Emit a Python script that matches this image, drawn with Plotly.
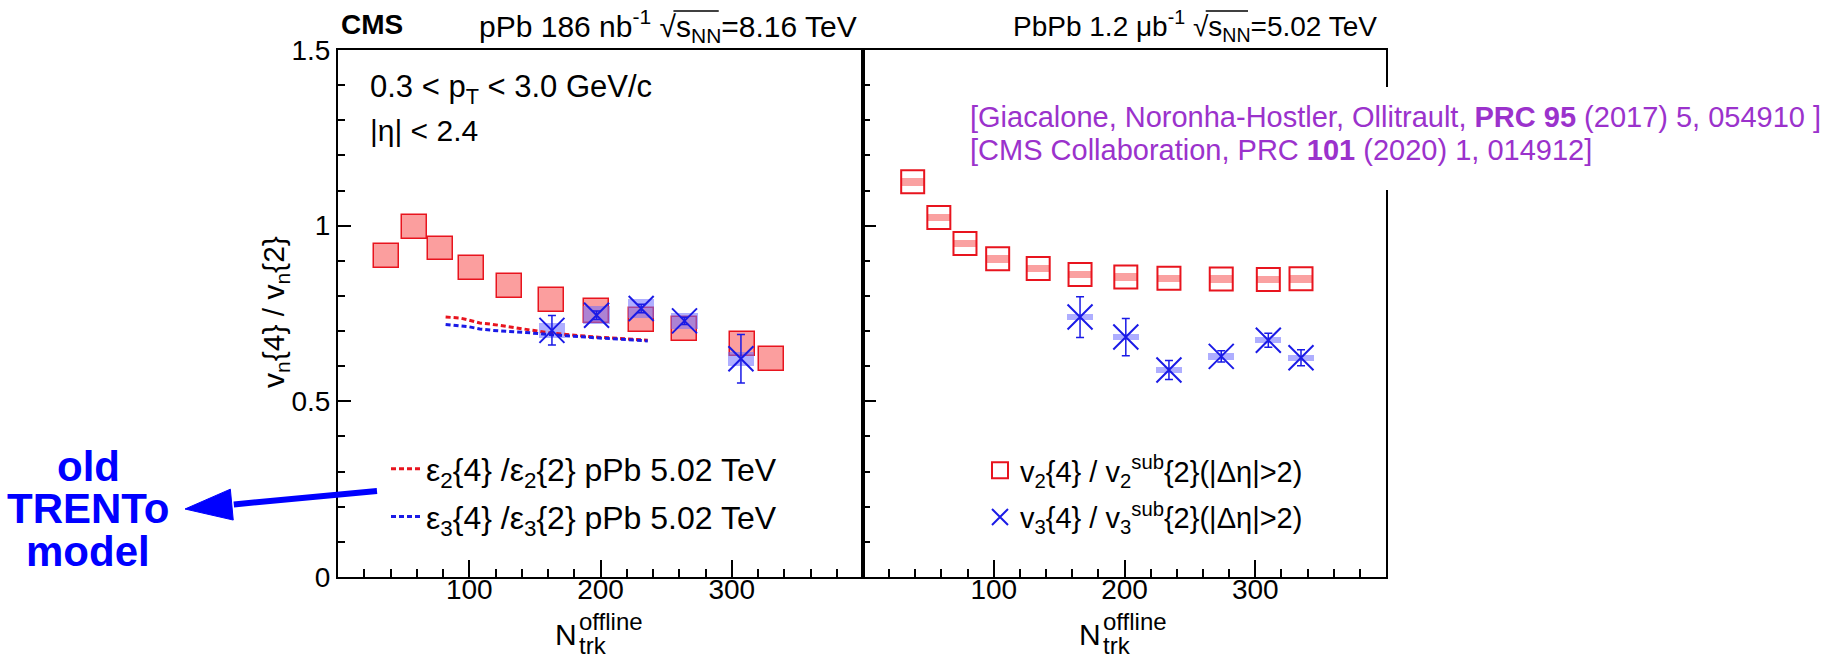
import plotly.graph_objects as go

W, H = 1837, 661
FONT = "Liberation Sans, Arial, Helvetica, sans-serif"

# ---------------- data ----------------
# pPb 8.16 TeV
ppb_v2_n = [37, 58, 78, 102, 131, 163, 197, 231, 264, 308, 330]
ppb_v2_ratio = [0.913, 0.995, 0.935, 0.879, 0.828, 0.788, 0.757, 0.732, 0.707, 0.663, 0.620]
ppb_v2_sys = [0.034, 0.034, 0.034, 0.034, 0.034, 0.034, 0.034, 0.034, 0.034, 0.034, 0.034]
ppb_v3_n = [163, 197, 231, 264, 307]
ppb_v3_ratio = [0.702, 0.745, 0.764, 0.729, 0.621]
ppb_v3_stat = [0.042, 0.012, 0.012, 0.010, 0.069]
ppb_v3_sys = [0.021, 0.026, 0.028, 0.022, 0.019]

# old TRENTo model, pPb 5.02 TeV
model_n = [82, 93, 100, 108, 118, 143, 161, 196, 217, 236]
model_e2 = [0.740, 0.737, 0.731, 0.723, 0.719, 0.704, 0.695, 0.683, 0.679, 0.674]
model_e3 = [0.719, 0.716, 0.712, 0.706, 0.702, 0.696, 0.690, 0.681, 0.677, 0.672]

# PbPb 5.02 TeV
pbpb_v2_n = [38, 58, 78, 103, 134, 166, 201, 234, 274, 310, 335]
pbpb_v2_ratio = [1.125, 1.023, 0.949, 0.906, 0.878, 0.861, 0.854, 0.850, 0.848, 0.847, 0.849]
pbpb_v2_sys = [0.011, 0.011, 0.011, 0.011, 0.011, 0.011, 0.011, 0.011, 0.011, 0.011, 0.011]
pbpb_v3_n = [166, 201, 234, 274, 310, 335]
pbpb_v3_ratio = [0.740, 0.683, 0.589, 0.628, 0.674, 0.624]
pbpb_v3_stat = [0.058, 0.053, 0.027, 0.016, 0.020, 0.023]
pbpb_v3_sys = [0.009, 0.009, 0.009, 0.009, 0.009, 0.009]

x_ticks = [100, 200, 300]
x_minor = [20, 40, 60, 80, 120, 140, 160, 180, 220, 240, 260, 280, 320, 340, 360, 380]
y_ticks = [0, 0.5, 1, 1.5]
y_ticktext = ["0", "0.5", "1", "1.5"]
y_minor = [0.1, 0.2, 0.3, 0.4, 0.6, 0.7, 0.8, 0.9, 1.1, 1.2, 1.3, 1.4]

RED = "#e8141e"
BLUE = "#1a1ae6"


def P(x):
    return x / W


def Q(y):
    return 1 - y / H


fig = go.Figure()

# ---------------- left panel: pPb ----------------
fig.add_trace(go.Bar(
    x=ppb_v2_n, y=[2 * s for s in ppb_v2_sys],
    base=[v - s for v, s in zip(ppb_v2_ratio, ppb_v2_sys)],
    width=19, marker=dict(color="rgba(250,120,120,0.72)", line=dict(color=RED, width=1.5)),
    showlegend=False, xaxis="x", yaxis="y"))
fig.add_trace(go.Bar(
    x=ppb_v3_n, y=[2 * s for s in ppb_v3_sys],
    base=[v - s for v, s in zip(ppb_v3_ratio, ppb_v3_sys)],
    width=20, marker=dict(color="rgba(110,110,255,0.55)", line=dict(width=0)),
    showlegend=False, xaxis="x", yaxis="y"))
fig.add_trace(go.Scatter(
    x=model_n, y=model_e2, mode="lines",
    line=dict(color=RED, width=3, dash="5px,3px"),
    name="ε<sub>2</sub>{4} /ε<sub>2</sub>{2} pPb 5.02 TeV",
    legend="legend", legendgroup="a", xaxis="x", yaxis="y"))
fig.add_trace(go.Scatter(
    x=model_n, y=model_e3, mode="lines",
    line=dict(color=BLUE, width=3, dash="5px,3px"),
    name="ε<sub>3</sub>{4} /ε<sub>3</sub>{2} pPb 5.02 TeV",
    legend="legend", legendgroup="b", xaxis="x", yaxis="y"))
fig.add_trace(go.Scatter(
    x=ppb_v3_n, y=ppb_v3_ratio, mode="markers",
    marker=dict(symbol="x-thin-open", size=25, color=BLUE, line=dict(width=2, color=BLUE)),
    error_y=dict(type="data", array=ppb_v3_stat, color=BLUE, thickness=1.5, width=4),
    showlegend=False, xaxis="x", yaxis="y"))

# ---------------- right panel: PbPb ----------------
fig.add_trace(go.Bar(
    x=pbpb_v2_n, y=[2 * s for s in pbpb_v2_sys],
    base=[v - s for v, s in zip(pbpb_v2_ratio, pbpb_v2_sys)],
    width=18, marker=dict(color="rgba(248,130,130,0.75)", line=dict(width=0)),
    showlegend=False, xaxis="x2", yaxis="y2"))
fig.add_trace(go.Bar(
    x=pbpb_v3_n, y=[2 * s for s in pbpb_v3_sys],
    base=[v - s for v, s in zip(pbpb_v3_ratio, pbpb_v3_sys)],
    width=20, marker=dict(color="rgba(120,120,255,0.6)", line=dict(width=0)),
    showlegend=False, xaxis="x2", yaxis="y2"))
fig.add_trace(go.Scatter(
    x=pbpb_v2_n, y=pbpb_v2_ratio, mode="markers",
    marker=dict(symbol="square-open", size=23, color=RED, line=dict(width=2, color=RED)),
    name="v<sub>2</sub>{4} / v<sub>2</sub><sup>sub</sup>{2}(|Δη|>2)",
    legend="legend2", legendgroup="c", xaxis="x2", yaxis="y2"))
fig.add_trace(go.Scatter(
    x=pbpb_v3_n, y=pbpb_v3_ratio, mode="markers",
    marker=dict(symbol="x-thin-open", size=25, color=BLUE, line=dict(width=2, color=BLUE)),
    error_y=dict(type="data", array=pbpb_v3_stat, color=BLUE, thickness=1.5, width=4),
    name="v<sub>3</sub>{4} / v<sub>3</sub><sup>sub</sup>{2}(|Δη|>2)",
    legend="legend2", legendgroup="d", xaxis="x2", yaxis="y2"))

# ---------------- axes ----------------
xdom1 = [P(338), P(863)]
xdom2 = [P(863), P(1386)]
ydom = [Q(577), Q(50)]

xcommon = dict(range=[0, 400], showline=True, linewidth=2, linecolor="black", mirror=True,
               ticks="inside", ticklen=17, tickwidth=1.5, tickcolor="black",
               tickmode="array", tickvals=x_ticks, ticklabelstandoff=-14,
               tickfont=dict(family=FONT, size=28, color="black"),
               minor=dict(tickmode="array", tickvals=x_minor, ticks="inside", ticklen=8,
                          tickwidth=1.5, tickcolor="black"),
               showgrid=False, zeroline=False, fixedrange=True, automargin=False)
ycommon = dict(range=[0, 1.5], domain=ydom, showline=True, linewidth=2, linecolor="black", mirror=True,
               ticks="inside", ticklen=13, tickwidth=1.5, tickcolor="black",
               tickmode="array", tickvals=y_ticks, ticktext=y_ticktext,
               tickfont=dict(family=FONT, size=28, color="black"),
               minor=dict(tickmode="array", tickvals=y_minor, ticks="inside", ticklen=7,
                          tickwidth=1.5, tickcolor="black"),
               showgrid=False, zeroline=False, fixedrange=True, automargin=False)

# ---------------- texts ----------------
def txt(s, c="black", bold=False):
    return dict(family=FONT, size=s, color=c, weight="bold" if bold else "normal")


HDR1, HDR2 = 30, 28
ann = []
ann.append(dict(text="CMS", x=P(339), y=Q(24), xanchor="left", yanchor="middle",
                font=txt(28, bold=True)))
ann.append(dict(text="pPb 186 nb<sup>-1</sup> √s<sub>NN</sub>=8.16 TeV", x=P(859), y=Q(26),
                xanchor="right", yanchor="middle", font=txt(HDR1)))
ann.append(dict(text="PbPb 1.2 μb<sup>-1</sup> √s<sub>NN</sub>=5.02 TeV", x=P(1379), y=Q(26),
                xanchor="right", yanchor="middle", font=txt(HDR2)))
ann.append(dict(text="0.3 < p<sub>T</sub> < 3.0 GeV/c", x=P(368), y=Q(89),
                xanchor="left", yanchor="middle", font=txt(31)))
ann.append(dict(text="|η| < 2.4", x=P(368), y=Q(131),
                xanchor="left", yanchor="middle", font=txt(30)))
ann.append(dict(text="[Giacalone, Noronha-Hostler, Ollitrault, <b>PRC 95</b> (2017) 5, 054910 ]",
                x=P(968), y=Q(117), xanchor="left", yanchor="middle", font=txt(29, "#9b32cc")))
ann.append(dict(text="[CMS Collaboration, PRC <b>101</b> (2020) 1, 014912]",
                x=P(968), y=Q(150), xanchor="left", yanchor="middle", font=txt(29, "#9b32cc")))
ann.append(dict(text="v<sub>n</sub>{4} / v<sub>n</sub>{2}", x=P(276), y=Q(312), textangle=-90,
                xanchor="center", yanchor="middle", font=txt(30)))
for xr in ["x", "x2"]:
    ann.append(dict(text="N", xref=xr, x=200, y=Q(634), xanchor="right", yanchor="middle",
                    xshift=-22, font=txt(30)))
    ann.append(dict(text="offline", xref=xr, x=200, y=Q(621), xanchor="left", yanchor="middle",
                    xshift=-24, font=txt(24)))
    ann.append(dict(text="trk", xref=xr, x=200, y=Q(645), xanchor="left", yanchor="middle",
                    xshift=-24, font=txt(24)))
for word, yc in [("old", 466), ("TRENTo", 508), ("model", 551)]:
    ann.append(dict(text=word, x=P(88), y=Q(yc), xanchor="center", yanchor="middle",
                    font=txt(42, "#0000ff", bold=True)))
for a in ann:
    a.setdefault("xref", "paper")
    a.setdefault("yref", "paper")
    a["showarrow"] = False

# ---------------- shapes: white box behind citation, arrow, sqrt overlines ----------------
shapes = []
shapes.append(dict(type="rect", xref="paper", yref="paper", x0=P(962), x1=P(1834),
                   y0=Q(190), y1=Q(87), fillcolor="white", line=dict(width=0), layer="above"))
tip = (185.0, 509.0)
tail = (377.0, 491.0)
dx, dy = tail[0] - tip[0], tail[1] - tip[1]
L = (dx * dx + dy * dy) ** 0.5
ux, uy = dx / L, dy / L
nx, ny = -uy, ux
hl, hw = 47.0, 15.5
bx, by = tip[0] + hl * ux, tip[1] + hl * uy
shapes.append(dict(type="line", xref="paper", yref="paper", x0=P(tail[0]), y0=Q(tail[1]),
                   x1=P(bx + 2 * ux), y1=Q(by + 2 * uy), line=dict(color="#0000ff", width=6)))
path = "M {},{} L {},{} L {},{} Z".format(
    P(tip[0]), Q(tip[1]), P(bx + hw * nx), Q(by + hw * ny), P(bx - hw * nx), Q(by - hw * ny))
shapes.append(dict(type="path", xref="paper", yref="paper", path=path,
                   fillcolor="#0000ff", line=dict(color="#0000ff", width=1)))
# overline of the square root: right end of text minus "=x.xx TeV" (4.642 em) and "s_NN" (1.511 em)
for right_end, fs in [(858, HDR1), (1378, HDR2)]:
    x_end = right_end - 4.642 * fs
    x_start = right_end - (4.642 + 1.511) * fs
    shapes.append(dict(type="line", xref="paper", yref="paper", x0=P(x_start), x1=P(x_end),
                       y0=Q(11), y1=Q(11), line=dict(color="black", width=1.5)))

fig.update_layout(
    width=W, height=H, autosize=False,
    margin=dict(l=0, r=0, t=0, b=0, pad=0, autoexpand=False),
    paper_bgcolor="white", plot_bgcolor="white",
    barmode="overlay", bargap=0,
    xaxis=dict(domain=xdom1, anchor="y", **xcommon),
    yaxis=dict(anchor="x", showticklabels=True, **ycommon),
    xaxis2=dict(domain=xdom2, anchor="y2", **xcommon),
    yaxis2=dict(anchor="x2", showticklabels=False, **ycommon),
    legend=dict(x=P(386), y=Q(493), xanchor="left", yanchor="middle",
                bgcolor="rgba(0,0,0,0)", font=dict(family=FONT, size=32, color="black"),
                tracegroupgap=3, itemwidth=30),
    legend2=dict(x=P(980), y=Q(494), xanchor="left", yanchor="middle",
                 bgcolor="rgba(0,0,0,0)", font=dict(family=FONT, size=29, color="black"),
                 tracegroupgap=6, itemwidth=30),
    annotations=ann,
    shapes=shapes,
    showlegend=True,
)

fig.write_html("out.html", config={"displayModeBar": False},
               post_script="document.body.style.margin='0';document.body.style.overflow='hidden';")
